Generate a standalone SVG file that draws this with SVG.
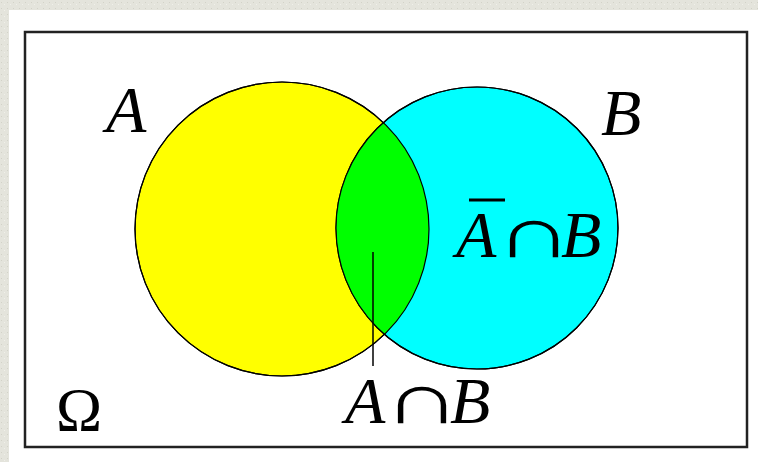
<svg xmlns="http://www.w3.org/2000/svg" width="758" height="462" viewBox="0 0 758 462">
  <style>
    text { font-family: "Liberation Serif", "Times New Roman", serif; fill: #000; }
    .it { font-style: italic; }
    .cap { font-family: "DejaVu Sans", "Noto Sans", sans-serif; font-style: normal; font-weight: 200; font-size: 72px; }
    .circ { stroke: #000; stroke-width: 1.2; }
  </style>
  <defs>
    <clipPath id="clipA"><circle cx="282" cy="229" r="147"/></clipPath>
    <pattern id="tex" width="6" height="6" patternUnits="userSpaceOnUse">
      <rect width="6" height="6" fill="#e4e4dc"/>
      <rect x="1" y="2" width="1" height="1" fill="#d2d2c8"/>
      <rect x="4" y="4" width="1" height="1" fill="#f0f0ea"/>
    </pattern>
  </defs>
  <rect width="758" height="462" fill="url(#tex)"/>
  <rect x="9" y="10" width="749" height="452" fill="#fff"/>
  <g id="omega">
    <rect x="25" y="32" width="722" height="415" fill="none" stroke="#222" stroke-width="2.5"/>
    <text x="56" y="430" font-size="62">Ω</text>
  </g>
  <g id="setA">
    <circle class="circ" cx="282" cy="229" r="147" fill="#ffff00"/>
    <text class="it" x="106" y="132" font-size="66">A</text>
  </g>
  <g id="setB">
    <circle class="circ" cx="477" cy="228" r="141" fill="#00ffff"/>
    <text class="it" x="601" y="135" font-size="66">B</text>
  </g>
  <g id="intersection">
    <circle cx="477" cy="228" r="141" fill="#00ff00" clip-path="url(#clipA)"/>
    <circle cx="282" cy="229" r="147" fill="none" stroke="#000" stroke-width="1.2"/>
    <circle cx="477" cy="228" r="141" fill="none" stroke="#000" stroke-width="1.2"/>
    <text class="it" x="345" y="423" font-size="66">A</text>
    <text class="cap" transform="translate(383,423) scale(1.5,1)">∩</text>
    <text class="it" x="450" y="423" font-size="66">B</text>
  </g>
  <g id="notA-and-B">
    <text class="it" x="456" y="257" font-size="66">A</text>
    <line x1="469" y1="200" x2="505" y2="200" stroke="#000" stroke-width="3"/>
    <text class="cap" transform="translate(495,257) scale(1.5,1)">∩</text>
    <text class="it" x="561" y="257" font-size="66">B</text>
  </g>
  <g id="connectors">
    <line x1="373" y1="252" x2="373" y2="366" stroke="#000" stroke-width="1.5"/>
  </g>
</svg>
